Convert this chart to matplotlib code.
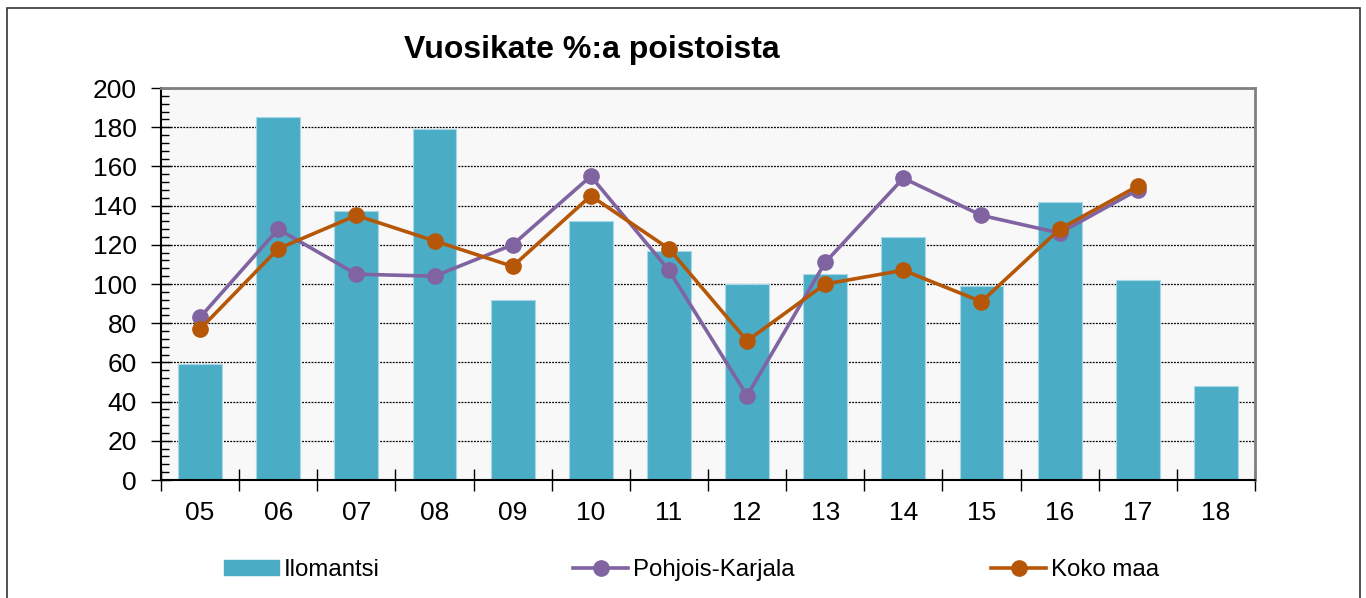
import matplotlib
matplotlib.use("Agg")
import matplotlib.pyplot as plt
import numpy as np
from matplotlib.ticker import MultipleLocator
from matplotlib.patches import Rectangle
from matplotlib.lines import Line2D
from matplotlib.patches import Patch

plt.rcParams['font.family'] = ['Liberation Sans', 'DejaVu Sans']

categories = ["05", "06", "07", "08", "09", "10", "11", "12", "13", "14", "15", "16", "17", "18"]
ilomantsi = [59, 185, 137, 179, 92, 132, 117, 100, 105, 124, 99, 142, 102, 48]
pohjois_karjala = [83, 128, 105, 104, 120, 155, 107, 43, 111, 154, 135, 126, 148]
koko_maa = [77, 118, 135, 122, 109, 145, 118, 71, 100, 107, 91, 128, 150]

c_bar = "#4BACC6"
c_pk = "#8064A2"
c_km = "#B65708"

fig = plt.figure(figsize=(13.66, 5.98), dpi=100)
fig.patches.append(Rectangle((7/1366, -0.05), (1360-7)/1366, 1.05 - 8/598,
                             transform=fig.transFigure, fill=False,
                             edgecolor="#333333", linewidth=1.2))

ax = fig.add_axes([161/1366, 1-480/598, (1255-161)/1366, (480-88)/598])
ax.set_facecolor("#F8F8F8")

x = np.arange(len(categories))
ax.bar(x, ilomantsi, width=0.56, color=c_bar, edgecolor="#A8D8E6", linewidth=0.8, zorder=2)
ax.plot(np.arange(len(pohjois_karjala)), pohjois_karjala, color=c_pk, linewidth=2.6,
        marker='o', markersize=11, zorder=3)
ax.plot(np.arange(len(koko_maa)), koko_maa, color=c_km, linewidth=2.6,
        marker='o', markersize=11, zorder=4)

ax.set_xlim(-0.5, len(categories) - 0.5)
ax.set_ylim(0, 200)
ax.yaxis.set_major_locator(MultipleLocator(20))
ax.yaxis.set_minor_locator(MultipleLocator(4))
ax.grid(axis='y', which='major', color='black', linestyle=(0, (1.5, 1)), linewidth=0.9, zorder=1)
ax.set_axisbelow(True)

ax.set_xticks(np.arange(-0.5, len(categories), 1.0))
ax.set_xticklabels([])
ax.set_xticks(x, minor=True)
ax.set_xticklabels(categories, minor=True)
ax.tick_params(axis='x', which='major', direction='inout', length=16, width=1, colors='black')
ax.tick_params(axis='x', which='minor', length=0, pad=15, labelsize=19)
ax.tick_params(axis='y', which='major', direction='inout', length=15, width=1, labelsize=19, pad=10)
ax.tick_params(axis='y', which='minor', direction='in', length=6, width=1)

for s in ['top', 'right']:
    ax.spines[s].set_color('#808080')
    ax.spines[s].set_linewidth(2)
for s in ['left', 'bottom']:
    ax.spines[s].set_color('black')
    ax.spines[s].set_linewidth(1.5)

fig.text(592/1366, 1-50/598, "Vuosikate %:a poistoista", ha='center', va='center',
         fontsize=23, fontweight='bold')

h1 = Patch(facecolor=c_bar, edgecolor=c_bar)
h2 = Line2D([], [], color=c_pk, linewidth=2.6, marker='o', markersize=11)
h3 = Line2D([], [], color=c_km, linewidth=2.6, marker='o', markersize=11)
for h, lab, xpos in [(h1, "Ilomantsi", 224), (h2, "Pohjois-Karjala", 573), (h3, "Koko maa", 991)]:
    fig.legend([h], [lab], loc='center left', bbox_to_anchor=(xpos/1366, 1-570/598),
               frameon=False, fontsize=17.3, handlelength=2.3, handletextpad=0.2,
               handleheight=0.6, borderpad=0, borderaxespad=0)

fig.savefig("out.png", dpi=100)
